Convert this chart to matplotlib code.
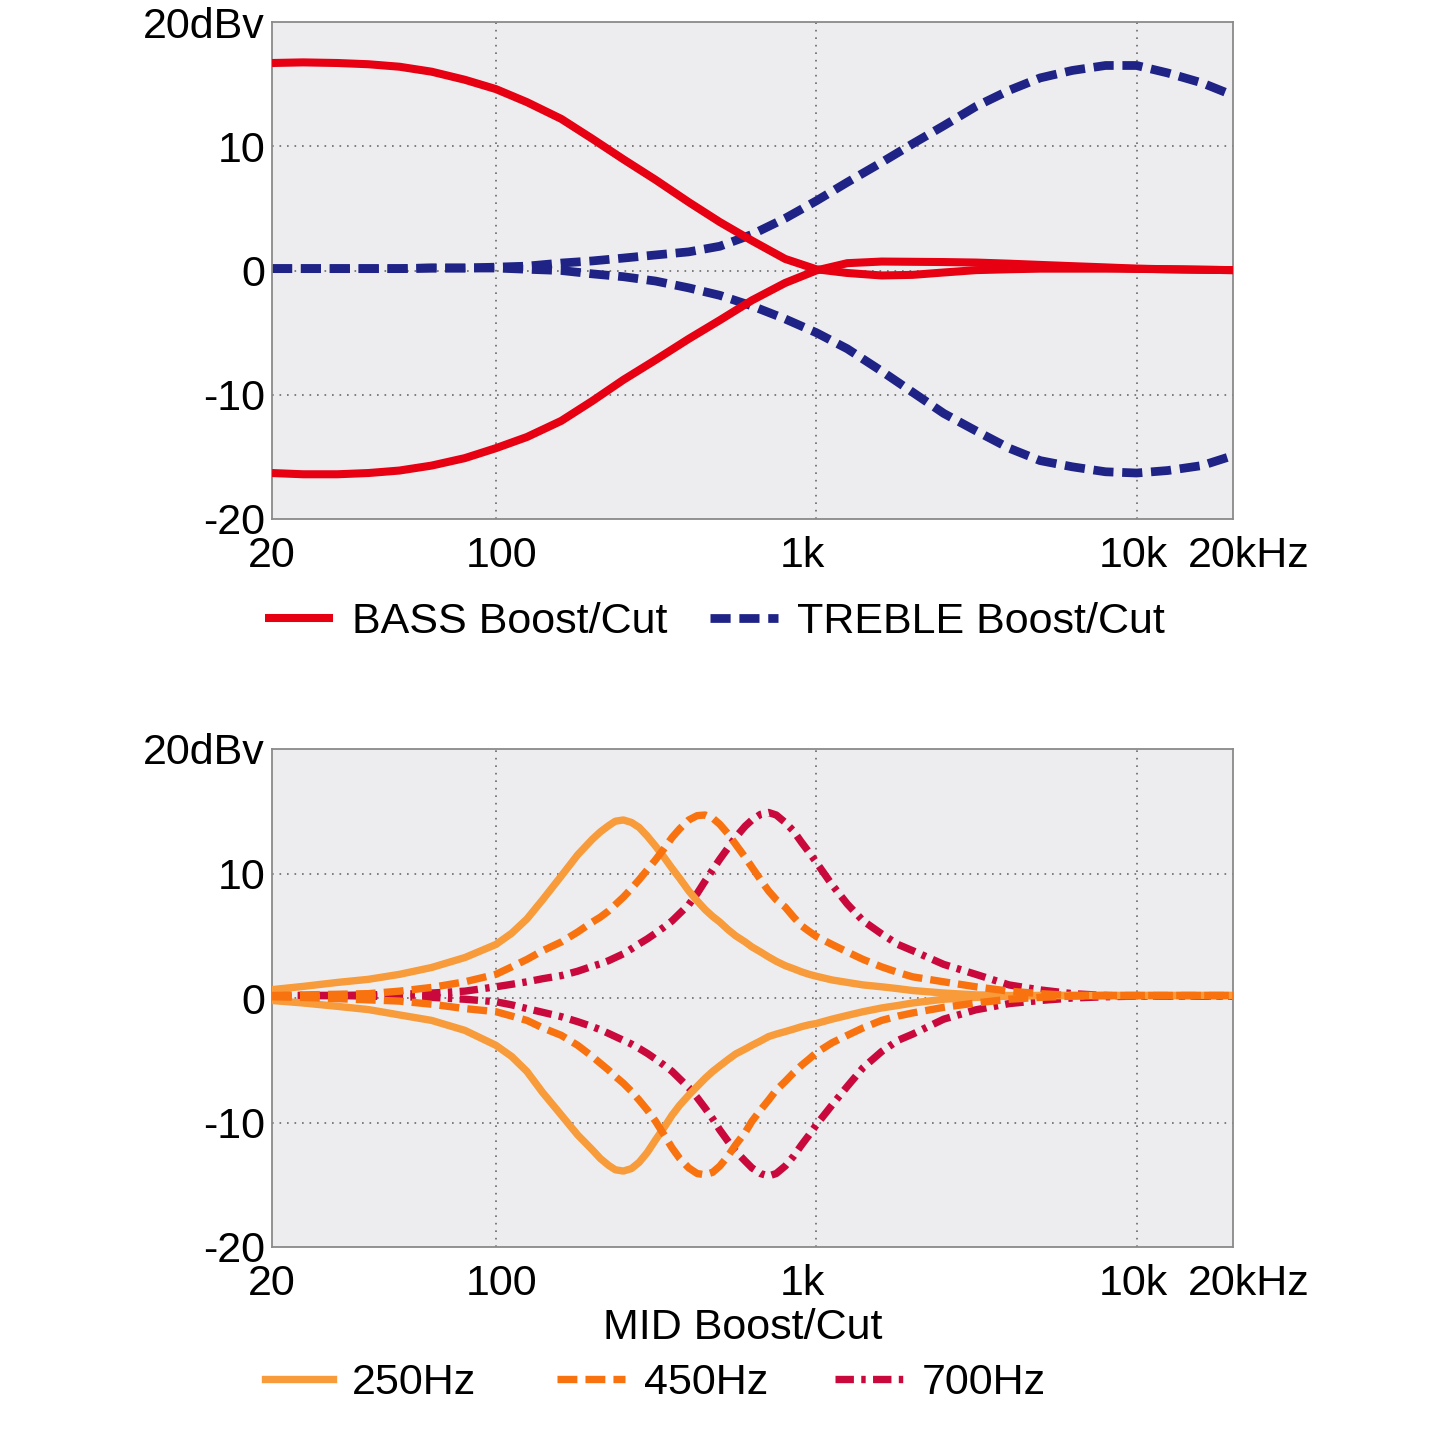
import matplotlib
matplotlib.use("Agg")
import matplotlib.pyplot as plt
from matplotlib.transforms import ScaledTranslation

plt.rcParams['font.family'] = ['Liberation Sans', 'DejaVu Sans']

# ---------------- data: top panel (BASS / TREBLE) ----------------
freq_top = [20, 25, 32, 40, 50, 63, 80, 100, 125, 160, 200, 250, 315, 400, 500, 630,
            800, 1000, 1250, 1600, 2000, 2500, 3150, 4000, 5000, 6300, 8000, 10000,
            12500, 16000, 20000]
bass_boost = [16.7, 16.75, 16.7, 16.6, 16.4, 16.0, 15.35, 14.6, 13.55, 12.2, 10.6, 8.95,
              7.3, 5.5, 3.9, 2.4, 0.93, 0.1, -0.2, -0.4, -0.35, -0.16, 0.03, 0.1, 0.15,
              0.15, 0.15, 0.13, 0.1, 0.06, 0.03]
bass_cut = [-16.3, -16.4, -16.4, -16.3, -16.1, -15.7, -15.1, -14.3, -13.4, -12.1, -10.5,
            -8.8, -7.2, -5.5, -4.0, -2.4, -1.0, 0.0, 0.59, 0.72, 0.7, 0.68, 0.64, 0.55,
            0.45, 0.35, 0.25, 0.15, 0.1, 0.06, 0.03]
treble_boost = [0.15, 0.15, 0.15, 0.15, 0.15, 0.2, 0.2, 0.27, 0.35, 0.6, 0.77, 1.0, 1.25,
                1.5, 1.95, 2.9, 4.2, 5.6, 7.1, 8.7, 10.2, 11.65, 13.2, 14.5, 15.5, 16.1,
                16.5, 16.5, 15.9, 15.1, 14.1]
treble_cut = [0.15, 0.15, 0.15, 0.15, 0.15, 0.2, 0.2, 0.2, 0.1, 0.0, -0.27, -0.5, -0.85,
              -1.4, -2.0, -2.85, -3.9, -5.0, -6.3, -8.1, -9.8, -11.5, -12.9, -14.3, -15.3,
              -15.8, -16.2, -16.3, -16.1, -15.7, -14.9]

# ---------------- data: bottom panel (MID) ----------------
freq_mid = [20, 25, 32, 40, 50, 63, 80,
            100, 112, 125, 140, 160, 180,
            200, 212, 225, 236, 250, 265, 280, 297,
            315, 335, 355, 375, 400, 425, 450, 475,
            500, 530, 560, 600, 630, 670, 710, 750,
            800, 850, 900, 950, 1000, 1120, 1250, 1400,
            1600, 1800, 2000, 2500, 3150, 4000, 5000, 6300,
            8000, 10000, 12500, 16000, 20000]
mid250_boost = [0.67, 0.93, 1.25, 1.5, 1.9, 2.45, 3.25,
                4.3, 5.2, 6.35, 7.9, 9.8, 11.5,
                12.75, 13.35, 13.85, 14.2, 14.3, 14.1, 13.7, 13.0,
                12.2, 11.3, 10.4, 9.6, 8.6, 7.8, 7.1, 6.55,
                6.1, 5.5, 5.0, 4.5, 4.1, 3.7, 3.3, 2.95,
                2.6, 2.35, 2.1, 1.9, 1.75, 1.45, 1.25, 1.05,
                0.9, 0.75, 0.6, 0.4, 0.25, 0.2, 0.2, 0.2,
                0.2, 0.2, 0.2, 0.2, 0.2]
mid250_cut = [-0.2, -0.4, -0.67, -0.93, -1.36, -1.8, -2.6,
              -3.8, -4.7, -5.9, -7.6, -9.4, -11.0,
              -12.2, -12.9, -13.45, -13.8, -13.9, -13.7, -13.2, -12.4,
              -11.4, -10.4, -9.4, -8.6, -7.8, -7.1, -6.45, -5.9,
              -5.45, -4.95, -4.5, -4.1, -3.8, -3.45, -3.1, -2.9,
              -2.7, -2.5, -2.3, -2.15, -2.05, -1.7, -1.4, -1.1,
              -0.8, -0.6, -0.4, -0.1, 0.05, 0.15, 0.2, 0.2,
              0.2, 0.2, 0.2, 0.2, 0.2]
mid450_boost = [0.2, 0.25, 0.3, 0.35, 0.55, 0.85, 1.3,
                1.9, 2.5, 3.1, 3.8, 4.5, 5.3,
                6.1, 6.5, 7.0, 7.5, 8.1, 8.8, 9.5, 10.3,
                11.1, 12.0, 12.9, 13.6, 14.3, 14.65, 14.7, 14.45,
                13.95, 13.2, 12.35, 11.3, 10.5, 9.5, 8.6, 7.9,
                7.3, 6.5, 5.8, 5.35, 4.95, 4.3, 3.7, 3.1,
                2.5, 2.05, 1.7, 1.3, 0.9, 0.55, 0.35, 0.2,
                0.2, 0.2, 0.2, 0.2, 0.2]
mid450_cut = [0.1, 0.05, -0.05, -0.15, -0.25, -0.5, -0.85,
              -1.1, -1.45, -1.8, -2.4, -3.0, -3.8,
              -4.7, -5.25, -5.8, -6.3, -6.85, -7.5, -8.2, -9.0,
              -9.9, -11.0, -12.05, -12.9, -13.65, -14.1, -14.2, -14.0,
              -13.5, -12.7, -11.8, -10.8, -9.9, -9.0, -8.2, -7.4,
              -6.7, -6.0, -5.4, -4.9, -4.4, -3.6, -3.0, -2.4,
              -1.8, -1.45, -1.2, -0.75, -0.4, -0.1, 0.05, 0.15,
              0.2, 0.2, 0.2, 0.2, 0.2]
mid700_boost = [0.2, 0.2, 0.2, 0.25, 0.3, 0.4, 0.55,
                0.9, 1.1, 1.3, 1.55, 1.8, 2.15,
                2.55, 2.75, 3.0, 3.25, 3.55, 3.95, 4.35, 4.75,
                5.2, 5.7, 6.2, 6.8, 7.5, 8.4, 9.4, 10.3,
                11.15, 12.05, 12.9, 13.8, 14.3, 14.75, 14.9, 14.7,
                14.1, 13.4, 12.5, 11.7, 10.9, 9.1, 7.55, 6.2,
                5.15, 4.3, 3.8, 2.7, 1.9, 1.05, 0.65, 0.35,
                0.2, 0.15, 0.15, 0.15, 0.15]
mid700_cut = [0.2, 0.2, 0.2, 0.15, 0.1, 0.05, -0.1,
              -0.3, -0.55, -0.85, -1.15, -1.5, -1.9,
              -2.3, -2.55, -2.85, -3.1, -3.4, -3.7, -4.05, -4.45,
              -4.9, -5.4, -5.9, -6.5, -7.2, -8.0, -8.85, -9.7,
              -10.6, -11.5, -12.3, -13.1, -13.65, -14.1, -14.3, -14.1,
              -13.5, -12.7, -11.8, -11.0, -10.2, -8.6, -7.1, -5.6,
              -4.3, -3.4, -2.9, -1.7, -0.95, -0.45, -0.2, 0.0,
              0.1, 0.15, 0.15, 0.15, 0.15]

x_ticks = [20, 100, 1000, 10000, 20000]
x_labels = ['20', '100', '1k', '10k', '20kHz']
y_ticks = [-20, -10, 0, 10, 20]
y_labels = ['-20', '-10', '0', '10', '20dBv']

top_labels = ['BASS Boost/Cut', 'TREBLE Boost/Cut']
mid_labels = ['250Hz', '450Hz', '700Hz']
mid_title = 'MID Boost/Cut'

# ---------------- styling ----------------
RED = '#E60012'
NAVY = '#1E2385'
ORANGE_L = '#F89B3A'
ORANGE = '#F8730F'
CRIMSON = '#C9083C'
BG = '#EDEDF0'
FS = 31

W = 1445
fig = plt.figure(figsize=(W / 100, W / 100), dpi=100)
fig.patch.set_facecolor('white')


def fx(px):
    return px / W


def fy(py):
    return 1 - py / W


ax1 = fig.add_axes([fx(272), fy(519), fx(1233) - fx(272), fy(22) - fy(519)])
ax2 = fig.add_axes([fx(272), fy(1247), fx(1233) - fx(272), fy(749) - fy(1247)])

label_shift = [0, 6, -14, -3, 16]


def style(ax):
    ax.set_xscale('log')
    ax.set_xlim(20, 20000)
    ax.set_ylim(-20, 20)
    ax.set_facecolor(BG)
    ax.minorticks_off()
    ax.set_xticks(x_ticks)
    ax.set_xticklabels(x_labels)
    ax.set_yticks(y_ticks)
    ax.set_yticklabels(y_labels)
    ax.tick_params(axis='both', length=0, labelsize=FS)
    ax.tick_params(axis='x', pad=12)
    ax.tick_params(axis='y', pad=5)
    for sp in ax.spines.values():
        sp.set_color('#8a8a8a')
        sp.set_linewidth(1.3)
    for v in [100, 1000, 10000]:
        ax.axvline(v, color='#6a6a6a', lw=1.2, ls=(0, (1, 3.5)), zorder=1)
    for v in [-10, 0, 10]:
        ax.axhline(v, color='#6a6a6a', lw=1.2, ls=(0, (1, 3.5)), zorder=1)
    for lab, dx in zip(ax.get_xticklabels(), label_shift):
        lab.set_transform(lab.get_transform() + ScaledTranslation(dx / 100, 0, fig.dpi_scale_trans))


style(ax1)
style(ax2)

# top panel
tb_kw = dict(color=NAVY, lw=6.3, dashes=(2.3, 1.0), dash_capstyle='butt', zorder=2)
h_treble, = ax1.plot(freq_top, treble_boost, **tb_kw)
ax1.plot(freq_top, treble_cut, **tb_kw)
bs_kw = dict(color=RED, lw=5.8, solid_joinstyle='round', solid_capstyle='butt', zorder=3)
h_bass, = ax1.plot(freq_top, bass_boost, **bs_kw)
ax1.plot(freq_top, bass_cut, **bs_kw)

# bottom panel
m7_kw = dict(color=CRIMSON, lw=5.3, dashes=(2.5, 1.0, 0.6, 1.0), dash_capstyle='butt', zorder=2)
h700, = ax2.plot(freq_mid, mid700_boost, **m7_kw)
ax2.plot(freq_mid, mid700_cut, **m7_kw)
m2_kw = dict(color=ORANGE_L, lw=5.3, solid_joinstyle='round', zorder=3)
h250, = ax2.plot(freq_mid, mid250_boost, **m2_kw)
ax2.plot(freq_mid, mid250_cut, **m2_kw)
m4_kw = dict(color=ORANGE, lw=5.3, dashes=(2.7, 1.1), dash_capstyle='butt', zorder=4)
h450, = ax2.plot(freq_mid, mid450_boost, **m4_kw)
ax2.plot(freq_mid, mid450_cut, **m4_kw)

leg_kw = dict(loc='center left', borderpad=0, borderaxespad=0, handlelength=1.58,
              handletextpad=0.44, frameon=False, fontsize=FS)
fig.legend([h_bass], [top_labels[0]], bbox_to_anchor=(fx(265), fy(622)), **leg_kw)
fig.legend([h_treble], [top_labels[1]], bbox_to_anchor=(fx(710), fy(622)), **leg_kw)

fig.text(fx(743), fy(1328), mid_title, ha='center', va='center', fontsize=FS)
fig.legend([h250], [mid_labels[0]], bbox_to_anchor=(fx(265), fy(1383)), **leg_kw)
fig.legend([h450], [mid_labels[1]], bbox_to_anchor=(fx(557), fy(1383)), **leg_kw)
fig.legend([h700], [mid_labels[2]], bbox_to_anchor=(fx(835), fy(1383)), **leg_kw)

fig.savefig('out.png', dpi=100, facecolor='white')
